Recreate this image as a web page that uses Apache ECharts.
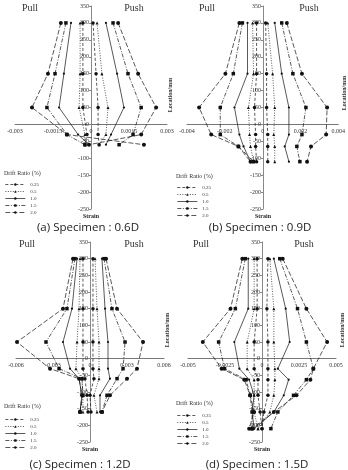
<!DOCTYPE html>
<html><head><meta charset="utf-8">
<script src="https://cdn.jsdelivr.net/npm/echarts@6/dist/echarts.min.js"></script>
<style>html,body{margin:0;padding:0;background:#fff}#c{width:348px;height:470px}</style>
</head><body><div id="c"></div>
<script>
const driftRatios = ['0.25', '0.5', '1.0', '1.5', '2.0'];
const yTicks = [-250, 350, 50];

// (a) Specimen 0.6D
const locA = [300, 150, 50, -30, -60];
const pullA = [
  [-0.00032, -0.00032, -0.00032, -0.00016, -0.00024],
  [-0.00043, -0.00043, -0.00047, -0.00024, -0.00024],
  [-0.00079, -0.00107, -0.00126, -0.00051, -0.00008],
  [-0.00099, -0.00142, -0.00174, -0.00095, -0.00024],
  [-0.00119, -0.0017, -0.00233, -0.00095, 0.00209]
];
const pushA = [
  [0.00008, 0.0002, 0.00028, 0.00028, 0.00032],
  [0.00024, 0.00043, 0.00067, 0.00059, 0.00032],
  [0.00059, 0.00103, 0.0013, 0.00079, 0.00059],
  [0.00087, 0.00146, 0.00198, 0.00166, 0.00111],
  [0.00107, 0.00186, 0.00257, 0.00198, -0.00008]
];
// (b) Specimen 0.9D
const locB = [300, 150, 50, -30, -65, -110];
const pullB = [
  [-0.00032, -0.00032, -0.00043, -0.00037, -0.00037, -0.00032],
  [-0.00053, -0.00048, -0.00075, -0.00069, -0.00064, -0.00048],
  [-0.0008, -0.0008, -0.00149, -0.00123, -0.00101, -0.00064],
  [-0.00107, -0.00155, -0.00224, -0.00224, -0.00128, -0.00048],
  [-0.00123, -0.00197, -0.00336, -0.00272, -0.00128, -0.00064]
];
const pushB = [
  [0.00016, 0.00021, 0.00021, 0.00027, 0.00027, 0.00027],
  [0.00027, 0.00053, 0.00064, 0.00059, 0.00064, 0.00064],
  [0.00064, 0.00101, 0.00139, 0.00139, 0.00117, 0.00139],
  [0.00101, 0.0016, 0.00229, 0.00208, 0.00181, 0.00197],
  [0.00128, 0.00208, 0.00341, 0.00336, 0.00256, 0.00235]
];
// (c) Specimen 1.2D
const locC = [300, 150, 50, -30, -60, -110, -160];
const pullC = [
  [-0.00057, -0.00057, -0.00057, -0.00057, -0.00041, -0.00024, -0.00016],
  [-0.00081, -0.00089, -0.00105, -0.00114, -0.00065, -0.00057, -0.00057],
  [-0.00105, -0.00146, -0.00219, -0.00162, -0.00089, -0.00065, -0.00081],
  [-0.00122, -0.00187, -0.00357, -0.00251, -0.00065, -0.00057, -0.00081],
  [-0.00138, -0.00219, -0.00592, -0.00324, -0.00089, -0.00065, -0.00081]
];
const pushC = [
  [0.00024, 0.00024, 0.00024, 0.00024, 0.00032, 0, 0.00008],
  [0.00041, 0.00057, 0.00073, 0.00073, 0.00073, 0.00032, 0.00057],
  [0.00097, 0.00122, 0.00146, 0.00146, 0.00162, 0.00081, 0.00081],
  [0.00114, 0.00178, 0.00284, 0.00268, 0.00219, 0.00138, 0.00097],
  [0.0013, 0.00219, 0.0043, 0.00381, 0.003, 0.00162, 0.00097]
];
// (d) Specimen 1.5D
const locD = [300, 150, 50, -30, -63, -110, -160, -210];
const pullD = [
  [-0.00033, -0.00033, -0.00053, -0.00053, -0.00027, -0.00027, -0.00013, 0],
  [-0.00053, -0.00053, -0.001, -0.001, -0.00053, -0.00053, -0.00053, -0.00027],
  [-0.00093, -0.00093, -0.00187, -0.00153, -0.00087, -0.00053, -0.00067, -0.00053],
  [-0.00113, -0.0018, -0.00293, -0.00253, -0.00107, -0.0008, -0.00067, -0.00067],
  [-0.00133, -0.00213, -0.004, -0.00273, -0.0012, -0.0008, -0.00053, -0.00087]
];
const pushD = [
  [0.0004, 0.00033, 0.0004, 0.0004, 0.0004, 0.0004, 0.00013, 0],
  [0.00053, 0.0008, 0.0008, 0.00087, 0.00087, 0.0008, 0.00053, -0.00027],
  [0.0008, 0.0016, 0.00187, 0.00107, 0.0018, 0.00147, 0.0008, -0.00053],
  [0.0012, 0.0024, 0.003, 0.00347, 0.003, 0.00213, 0.00107, 0.0006],
  [0.0014, 0.003, 0.0044, 0.00347, 0.00327, 0.00233, 0.0008, -0.00067]
];
const xRanges = [0.003, 0.004, 0.006, 0.005];
const captions = ['(a) Specimen : 0.6D', '(b) Specimen : 0.9D', '(c) Specimen : 1.2D', '(d) Specimen : 1.5D'];

const panels = [
  {loc: locA, pull: pullA, push: pushA},
  {loc: locB, pull: pullB, push: pushB},
  {loc: locC, pull: pullC, push: pushC},
  {loc: locD, pull: pullD, push: pushD}
];

// layout (pixels)
const grids = [
  {left: 15, top: 6, width: 152, height: 203},
  {left: 187, top: 6, width: 152, height: 203},
  {left: 16, top: 242, width: 148, height: 200},
  {left: 188, top: 242, width: 148, height: 200}
];
const styles = [
  {symbol: 'circle', size: 3.5, dash: [3, 2]},
  {symbol: 'triangle', size: 3, dash: [1, 1.5]},
  {symbol: 'circle', size: 2.2, dash: 'solid'},
  {symbol: 'rect', size: 3.5, dash: [4, 1.5, 1, 1.5]},
  {symbol: 'circle', size: 4, dash: [5, 2]}
];
const serif = '"Liberation Serif", "DejaVu Serif", serif';

function fmt(v) { return String(Number(v.toPrecision(6))); }

const xAxis = [], yAxis = [], series = [], legend = [], graphic = [];
grids.forEach((g, p) => {
  const R = xRanges[p];
  const yMin = yTicks[0], yMax = yTicks[1];
  // place axes through the origin using offsets
  const xOff = -g.height * (0 - yMin) / (yMax - yMin);
  const yOff = -g.width / 2;
  xAxis.push({
    gridIndex: p, type: 'value', min: -R, max: R, interval: R / 2,
    position: 'bottom', offset: xOff,
    axisLine: {onZero: false, lineStyle: {color: '#777', width: 1}},
    axisTick: {show: false},
    splitLine: {show: false},
    axisLabel: {fontSize: 6, fontFamily: serif, color: '#333', margin: 4, formatter: fmt}
  });
  yAxis.push({
    gridIndex: p, type: 'value', min: yMin, max: yMax, interval: yTicks[2],
    position: 'left', offset: yOff,
    axisLine: {onZero: false, lineStyle: {color: '#888', width: 1}},
    axisTick: {show: true, length: 2, lineStyle: {color: '#888'}},
    splitLine: {show: false},
    axisLabel: {fontSize: 6, fontFamily: serif, color: '#333', margin: 2},
    name: 'Strain', nameLocation: 'start', nameGap: 4,
    nameTextStyle: {fontSize: 6, fontFamily: serif, fontWeight: 'bold', color: '#222'}
  });
  const P = panels[p];
  driftRatios.forEach((d, i) => {
    const st = styles[i];
    [P.pull[i], P.push[i]].forEach(vals => {
      series.push({
        type: 'line', name: d, xAxisIndex: p, yAxisIndex: p,
        data: vals.map((v, k) => [v, P.loc[k]]),
        symbol: st.symbol, symbolSize: st.size, showSymbol: true,
        lineStyle: {color: '#111', width: 0.7, type: st.dash},
        itemStyle: {color: '#111'},
        silent: true, animation: false
      });
    });
  });
});

const legendPos = [[5, 182], [177, 185], [5, 417], [177, 413]];
const driftTitlePos = [[4, 173], [176, 176], [4, 406], [176, 403]];
legendPos.forEach((lp) => {
  legend.push({
    data: driftRatios, orient: 'vertical', left: lp[0], top: lp[1],
    itemWidth: 20, itemHeight: 3, itemGap: 2, padding: 0, selectedMode: false,
    lineStyle: {width: 0.7},
    textStyle: {fontSize: 5, fontFamily: serif, color: '#333'}
  });
});

function txt(x, y, text, font, opts) {
  return Object.assign({
    type: 'text', x: x, y: y, silent: true,
    style: {text: text, font: font, fill: '#333', align: 'center', verticalAlign: 'middle',
            textAlign: 'center', textVerticalAlign: 'middle'}
  }, opts || {});
}
const pullPos = [[30, 8], [207, 8], [27, 244], [201, 244]];
const pushPos = [[134, 8], [309, 8], [134, 244], [304, 244]];
const locPos = [[170, 95], [344, 93], [167, 330], [342, 330]];
const capPos = [[88, 228], [260, 228], [80, 465], [257, 465]];
for (let p = 0; p < 4; p++) {
  graphic.push(txt(pullPos[p][0], pullPos[p][1], 'Pull', '10px ' + serif));
  graphic.push(txt(pushPos[p][0], pushPos[p][1], 'Push', '10px ' + serif));
  graphic.push(txt(locPos[p][0], locPos[p][1], 'Location/mm', 'bold 6px ' + serif, {rotation: Math.PI / 2}));
  const dt = txt(driftTitlePos[p][0], driftTitlePos[p][1], 'Drift Ratio (%)', '6px ' + serif);
  dt.style.align = 'left'; dt.style.textAlign = 'left';
  graphic.push(dt);
  const cp = txt(capPos[p][0], capPos[p][1], captions[p], '11.5px "Open Sans", "Noto Sans", sans-serif');
  cp.style.fill = '#222';
  graphic.push(cp);
}

const chart = echarts.init(document.getElementById('c'), null, {renderer: 'canvas'});
chart.setOption({
  animation: false,
  backgroundColor: '#fff',
  grid: grids,
  xAxis: xAxis,
  yAxis: yAxis,
  legend: legend,
  series: series,
  graphic: graphic
});
</script></body></html>
